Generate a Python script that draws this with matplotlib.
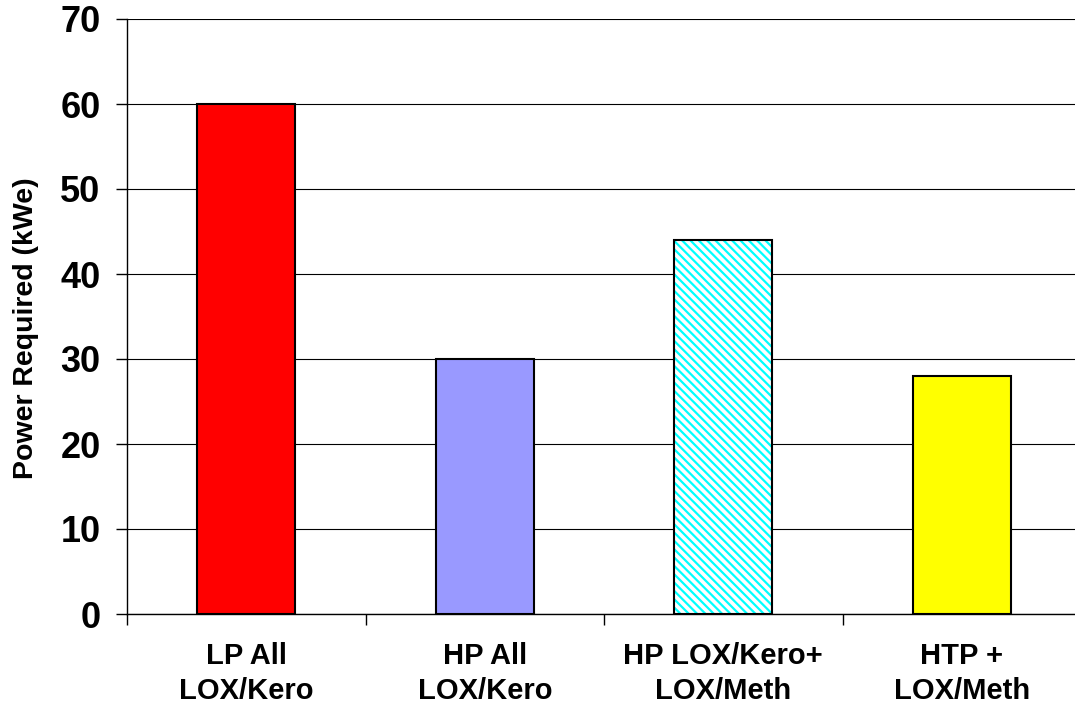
import matplotlib.pyplot as plt
import numpy as np

# categories and power values (kWe)
labels = ['LP All\nLOX/Kero', 'HP All\nLOX/Kero', 'HP LOX/Kero+\nLOX/Meth', 'HTP +\nLOX/Meth']
power = [60, 30, 44, 28]
colors = ['#ff0000', '#9999ff', '#ffffff', '#ffff00']

plt.rcParams['font.family'] = ['Liberation Sans', 'DejaVu Sans']
plt.rcParams['font.weight'] = 'bold'
plt.rcParams['hatch.linewidth'] = 1.6

fig = plt.figure(figsize=(10.75, 7.07), dpi=100)
ax = fig.add_axes([127 / 1075, 1 - 614 / 707, 954 / 1075, 595 / 707])

x = np.arange(len(labels))
ax.set_axisbelow(True)
ax.yaxis.grid(True, color='black', linewidth=0.8)

# hatched bar: cyan hatch drawn first, black outline on top
hatch = ['', '', '\\\\\\\\', '']
bars = ax.bar(x, power, width=0.41, color=colors, edgecolor='#00ffff', linewidth=0, zorder=2)
for b, h in zip(bars, hatch):
    b.set_hatch(h)
ax.bar(x, power, width=0.41, fill=False, edgecolor='black', linewidth=1.5, zorder=3)

ax.set_xlim(-0.5, len(labels) - 0.5)
ax.set_ylim(0, 70)
ax.set_yticks(range(0, 71, 10))
ax.set_xticks(x)
ax.set_xticklabels(labels, fontsize=21, fontweight='bold', linespacing=1.33)
ax.set_xticks(np.arange(len(labels) + 1) - 0.5, minor=True)
ax.tick_params(axis='x', which='major', length=0, pad=20)
ax.tick_params(axis='x', which='minor', length=8, direction='out', width=1)
ax.tick_params(axis='y', labelsize=26, length=8, width=1, pad=11)
for t in ax.get_yticklabels():
    t.set_fontweight('bold')

for s in ['top', 'right']:
    ax.spines[s].set_visible(False)
ax.spines['left'].set_linewidth(1)
ax.spines['bottom'].set_linewidth(1)

ax.set_ylabel('Power Required (kWe)', fontsize=20.5, fontweight='bold')
ax.yaxis.set_label_coords(-0.092, 0.48)

fig.savefig('out.png', dpi=100)
